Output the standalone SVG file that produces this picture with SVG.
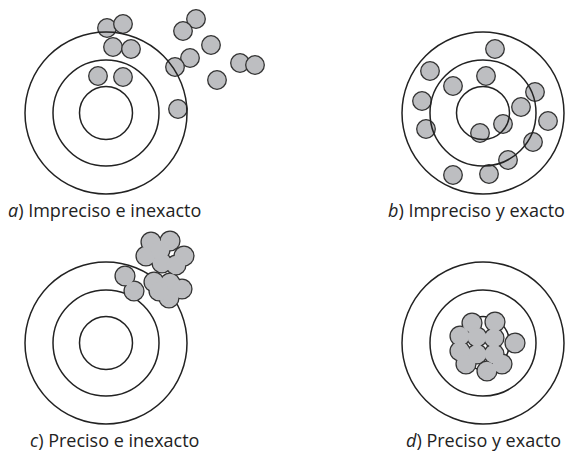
<svg xmlns="http://www.w3.org/2000/svg" width="571" height="459" viewBox="0 0 571 459">
<style>
.ring{fill:none;stroke:#222;stroke-width:1.5}
.dot{fill:#bdbec1;stroke:#333;stroke-width:1.3}
.ds{fill:none;stroke:#333;stroke-width:2.6}
.df{fill:#bdbec1;stroke:none}
.lbl{font-family:"Open Sans","Liberation Sans",sans-serif;font-size:18px;fill:#222}
.it{font-style:italic}
</style>
<defs>
<g id="rings">
<circle class="ring" r="81"/>
<circle class="ring" r="53"/>
<circle class="ring" r="26.5"/>
</g>
</defs>
<rect width="571" height="459" fill="#fff"/>

<g id="target-a">
<g id="dots-a">
<circle class="dot" cx="107" cy="28" r="9.3"/>
<circle class="dot" cx="123" cy="24" r="9.3"/>
<circle class="dot" cx="113" cy="47" r="9.3"/>
<circle class="dot" cx="131" cy="49" r="9.3"/>
<circle class="dot" cx="98" cy="76" r="9.3"/>
<circle class="dot" cx="123" cy="77" r="9.3"/>
<circle class="dot" cx="196" cy="19" r="9.3"/>
<circle class="dot" cx="183" cy="31" r="9.3"/>
<circle class="dot" cx="211" cy="45" r="9.3"/>
<circle class="dot" cx="190" cy="58" r="9.3"/>
<circle class="dot" cx="175" cy="67" r="9.3"/>
<circle class="dot" cx="240" cy="63" r="9.3"/>
<circle class="dot" cx="255" cy="65" r="9.3"/>
<circle class="dot" cx="217" cy="80" r="9.3"/>
<circle class="dot" cx="178" cy="109" r="9.3"/>
</g>
<use href="#rings" x="106" y="113"/>
<text class="lbl" x="8" y="217"><tspan class="it">a</tspan>) Impreciso e inexacto</text>
</g>

<g id="target-b">
<g id="dots-b">
<circle class="dot" cx="495" cy="49" r="9.3"/>
<circle class="dot" cx="430" cy="71" r="9.3"/>
<circle class="dot" cx="486" cy="76" r="9.3"/>
<circle class="dot" cx="453" cy="86" r="9.3"/>
<circle class="dot" cx="422" cy="101" r="9.3"/>
<circle class="dot" cx="535" cy="92" r="9.3"/>
<circle class="dot" cx="521" cy="107" r="9.3"/>
<circle class="dot" cx="426" cy="129" r="9.3"/>
<circle class="dot" cx="503" cy="124" r="9.3"/>
<circle class="dot" cx="480" cy="133" r="9.3"/>
<circle class="dot" cx="548" cy="121" r="9.3"/>
<circle class="dot" cx="533" cy="142" r="9.3"/>
<circle class="dot" cx="508" cy="160" r="9.3"/>
<circle class="dot" cx="453" cy="175" r="9.3"/>
<circle class="dot" cx="489" cy="174" r="9.3"/>
</g>
<use href="#rings" x="483" y="113"/>
<text class="lbl" x="388" y="217"><tspan class="it">b</tspan>) Impreciso y exacto</text>
</g>

<g id="target-c">
<use href="#rings" x="106" y="343"/>
<g id="dots-c">
<g class="ds">
<circle cx="151" cy="242" r="9.3"/><circle cx="170" cy="241" r="9.3"/><circle cx="146" cy="256" r="9.3"/><circle cx="184" cy="256" r="9.3"/><circle cx="162" cy="263" r="9.3"/><circle cx="176" cy="265" r="9.3"/><circle cx="160" cy="250" r="9.3"/>
<circle cx="154" cy="282" r="9.3"/><circle cx="170" cy="283" r="9.3"/><circle cx="182" cy="289" r="9.3"/><circle cx="169" cy="298" r="9.3"/><circle cx="159" cy="291" r="9.3"/>
<circle cx="125" cy="276" r="9.3"/><circle cx="134" cy="291" r="9.3"/>
</g>
<g class="df">
<circle cx="151" cy="242" r="9.3"/><circle cx="170" cy="241" r="9.3"/><circle cx="146" cy="256" r="9.3"/><circle cx="184" cy="256" r="9.3"/><circle cx="162" cy="263" r="9.3"/><circle cx="176" cy="265" r="9.3"/><circle cx="160" cy="250" r="9.3"/>
<circle cx="154" cy="282" r="9.3"/><circle cx="170" cy="283" r="9.3"/><circle cx="182" cy="289" r="9.3"/><circle cx="169" cy="298" r="9.3"/><circle cx="159" cy="291" r="9.3"/>
<circle cx="125" cy="276" r="9.3"/><circle cx="134" cy="291" r="9.3"/>
</g>
</g>
<text class="lbl" x="30" y="447"><tspan class="it">c</tspan>) Preciso e inexacto</text>
</g>

<g id="target-d">
<use href="#rings" x="483" y="343"/>
<g id="dots-d">
<g class="ds">
<circle cx="472" cy="323" r="9.3"/><circle cx="495" cy="322" r="9.3"/><circle cx="460" cy="336" r="9.3"/><circle cx="515" cy="343" r="9.3"/><circle cx="460" cy="351" r="9.3"/><circle cx="466" cy="364" r="9.3"/><circle cx="487" cy="371" r="9.3"/><circle cx="502" cy="364" r="9.3"/><circle cx="477" cy="337" r="9.3"/><circle cx="494" cy="338" r="9.3"/><circle cx="477" cy="354" r="9.3"/><circle cx="494" cy="354" r="9.3"/>
</g>
<g class="df">
<circle cx="472" cy="323" r="9.3"/><circle cx="495" cy="322" r="9.3"/><circle cx="460" cy="336" r="9.3"/><circle cx="515" cy="343" r="9.3"/><circle cx="460" cy="351" r="9.3"/><circle cx="466" cy="364" r="9.3"/><circle cx="487" cy="371" r="9.3"/><circle cx="502" cy="364" r="9.3"/><circle cx="477" cy="337" r="9.3"/><circle cx="494" cy="338" r="9.3"/><circle cx="477" cy="354" r="9.3"/><circle cx="494" cy="354" r="9.3"/>
</g>
</g>
<text class="lbl" x="406" y="447"><tspan class="it">d</tspan>) Preciso y exacto</text>
</g>
</svg>
